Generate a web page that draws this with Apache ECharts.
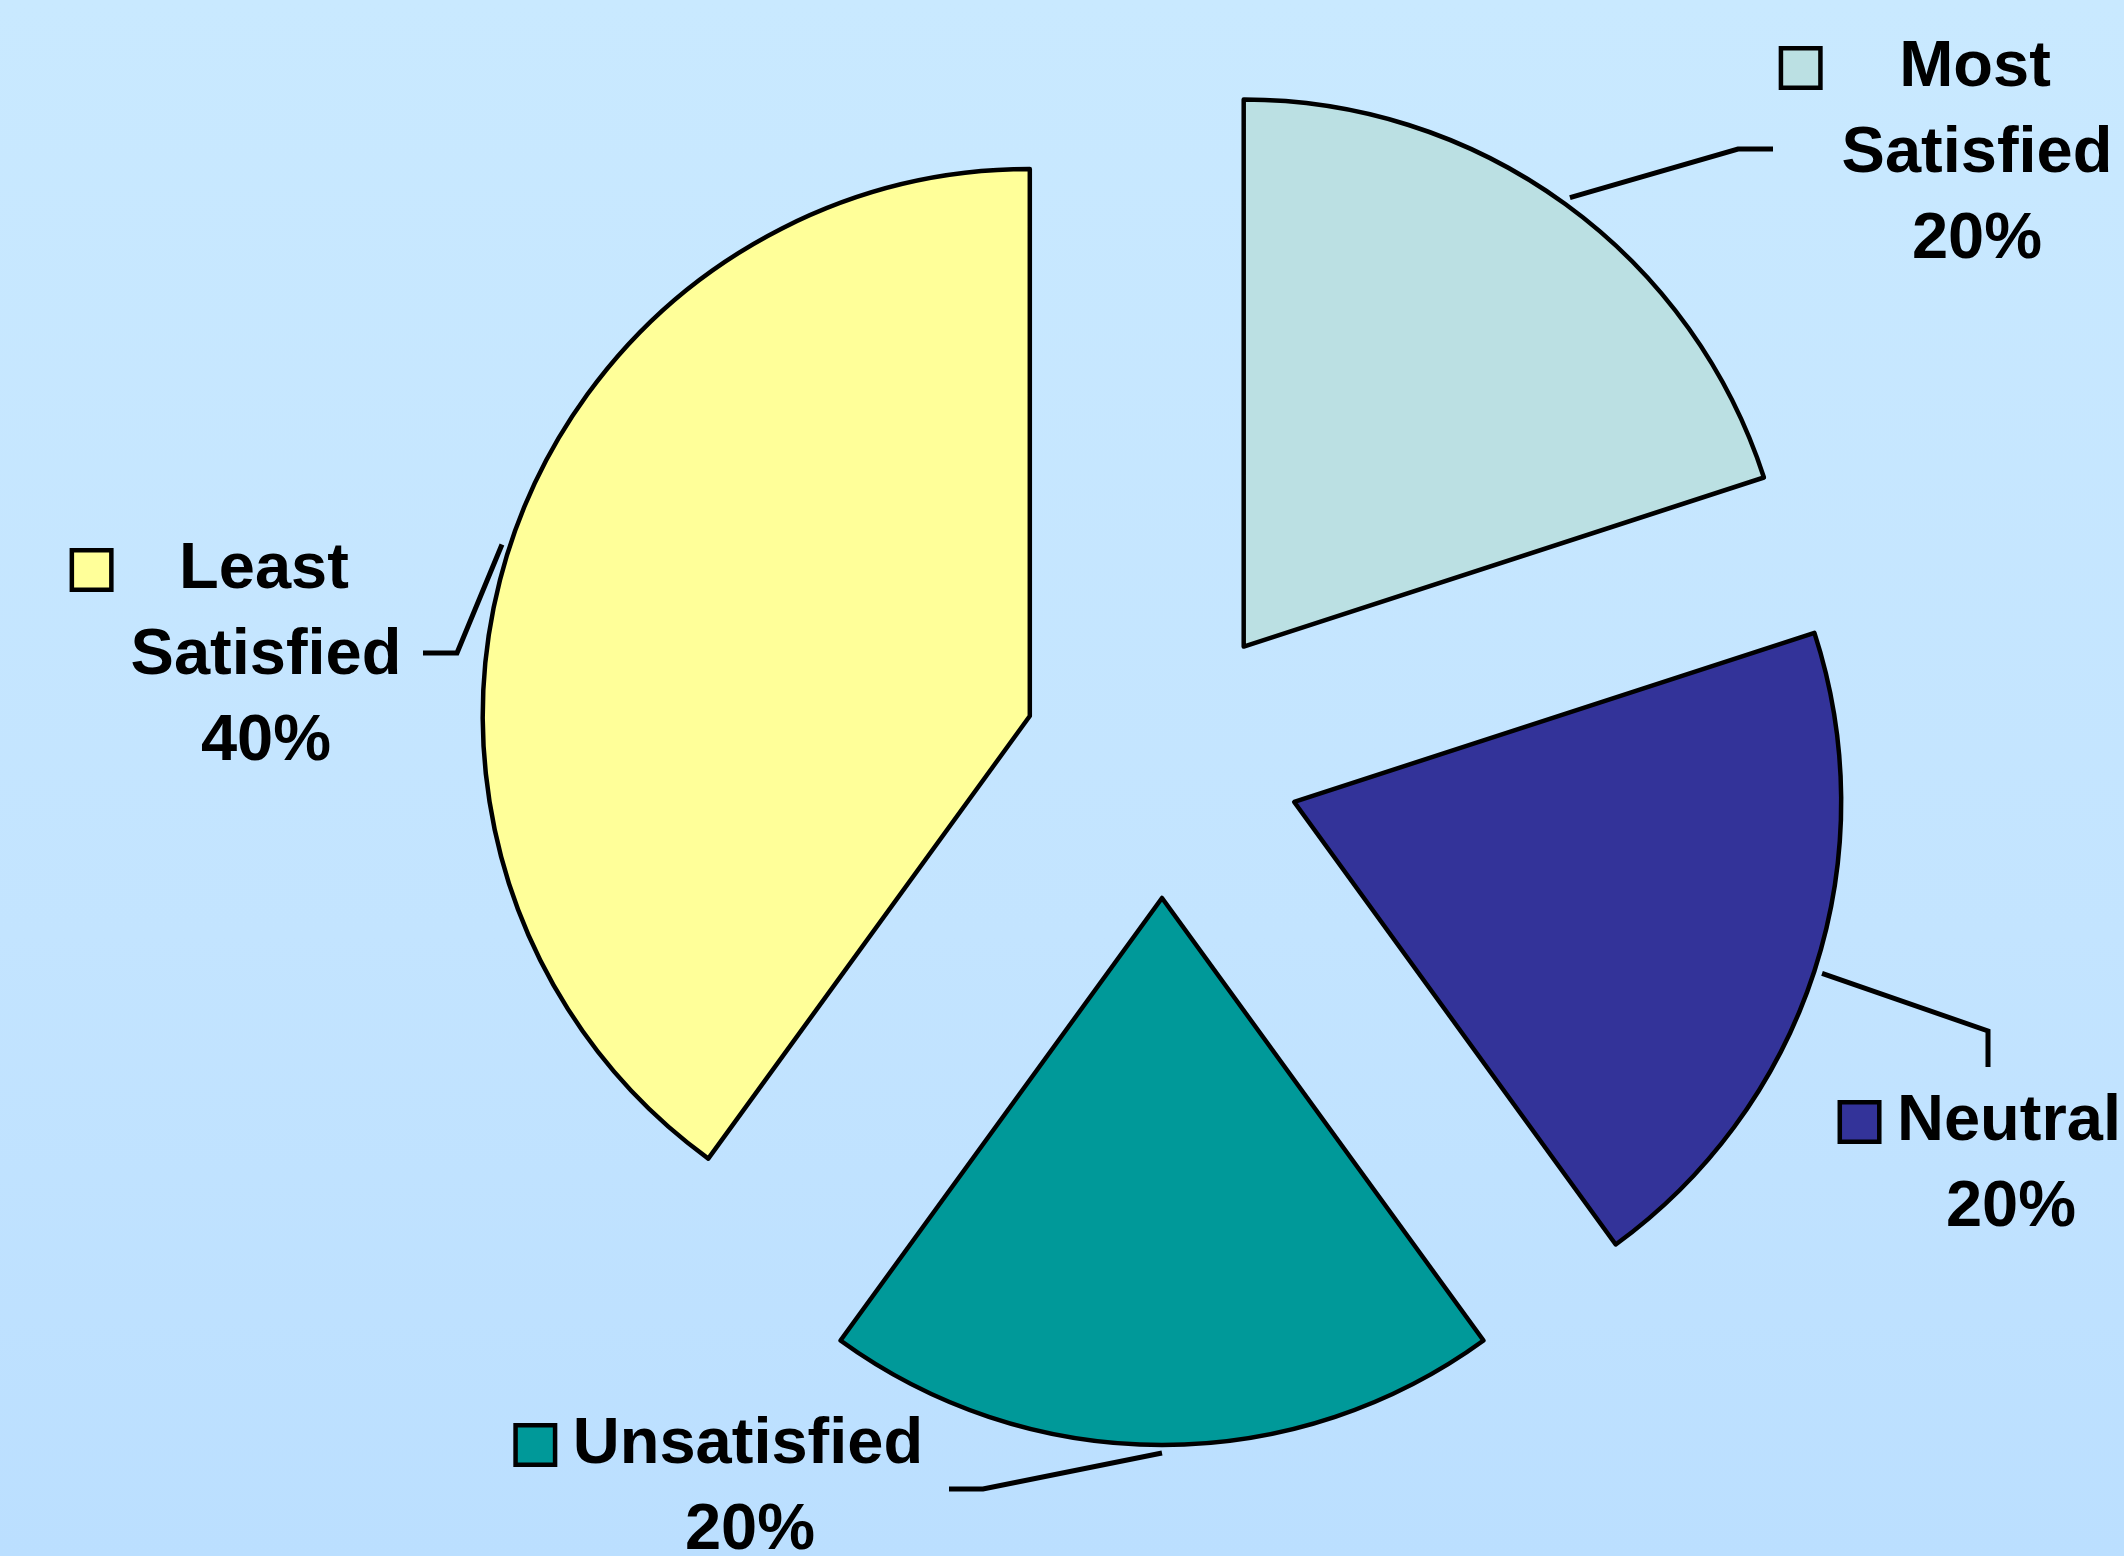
<!DOCTYPE html>
<html>
<head>
<meta charset="utf-8">
<script src="https://cdn.jsdelivr.net/npm/echarts@6/dist/echarts.min.js"></script>
<style>
  html, body { margin: 0; padding: 0; }
  body { width: 2124px; height: 1556px; background: linear-gradient(to bottom, #C9E9FF 0%, #C3E4FF 60%, #BBDFFF 100%); }
  #chart { width: 2124px; height: 1556px; }
</style>
</head>
<body>
<div id="chart"></div>
<script>
// ---- data ----
const categories = ['Most Satisfied', 'Neutral', 'Unsatisfied', 'Least Satisfied'];
const values = [20, 20, 20, 40];
const colors = ['#BBE0E3', '#333399', '#009999', '#FFFF99'];

// ---- layout (positions / sizes only) ----
const pieCenter = [1162, 759];
const pieRadius = 547;
const explodeOffset = 139;
const labelAnchors = [[1977, 154], [2011, 1165], [750, 1488], [266, 656]];
const leaderTails = [
  [[1738, 149], [1773, 149]],
  [[1988, 1031], [1988, 1067]],
  [[983, 1489], [949, 1489]],
  [[457, 653], [423, 653]]
];
const keyGaps = [79, 18, 18, 68];
const keySize = 35;
const strokeW = 4.5;
const leaderW = 5;

const FONT = '"Liberation Sans", Arial, Helvetica, sans-serif';
const rich = {
  t: { fontSize: 65, fontWeight: 'bold', fontFamily: FONT, color: '#000', lineHeight: 86 }
};
colors.forEach((c, i) => {
  rich['sq' + i] = { width: keySize, height: keySize, backgroundColor: c, borderColor: '#000', borderWidth: 4.5, lineHeight: 86 };
  rich['gL' + i] = { width: keyGaps[i] + 2, height: 1, lineHeight: 86 };
  rich['gR' + i] = { width: keyGaps[i] + keySize + 6, height: 1, lineHeight: 86 };
});

const total = values.reduce((a, b) => a + b, 0);
function midAngle(i) {
  let cum = 0;
  for (let k = 0; k < i; k++) cum += values[k];
  const mid = (cum + values[i] / 2) / total;
  return (90 - mid * 360) * Math.PI / 180;
}
// centre of an exploded slice: pushed out along its mid-angle
function sliceCenter(i) {
  const a = midAngle(i);
  return [pieCenter[0] + Math.cos(a) * explodeOffset, pieCenter[1] - Math.sin(a) * explodeOffset];
}
function leaderStart(i) {
  const a = midAngle(i);
  const c = sliceCenter(i);
  const d = pieRadius + 8;
  return [c[0] + Math.cos(a) * d, c[1] - Math.sin(a) * d];
}

function labelFormatter(p) {
  const i = p.dataIndex;
  const words = p.name.split(' ');
  let s = '{sq' + i + '|}{gL' + i + '|}{t|' + words[0] + '}{gR' + i + '|}';
  for (let k = 1; k < words.length; k++) s += '\n{t|' + words[k] + '}';
  s += '\n{t|' + Math.round(p.percent) + '%}';
  return s;
}

// One pie per exploded slice: each lays out all values (so angles come from the data)
// but only shows its own slice.
const series = categories.map((_, i) => ({
  type: 'pie',
  center: sliceCenter(i),
  radius: pieRadius,
  startAngle: 90,
  clockwise: true,
  avoidLabelOverlap: false,
  silent: true,
  emphasis: { disabled: true, scale: false },
  label: { show: true, position: 'outside', align: 'center', rich: rich, formatter: labelFormatter },
  labelLine: { show: true, lineStyle: { color: '#000', width: leaderW }, length: 20, length2: 20 },
  labelLayout: function (params) {
    const k = params.dataIndex;
    if (k !== i) return {};
    return {
      x: labelAnchors[k][0],
      y: labelAnchors[k][1],
      align: 'center',
      verticalAlign: 'middle',
      labelLinePoints: [leaderStart(k), leaderTails[k][0], leaderTails[k][1]]
    };
  },
  data: categories.map((name, k) => ({
    name: name,
    value: values[k],
    itemStyle: k === i
      ? { color: colors[k], borderColor: '#000', borderWidth: strokeW }
      : { color: 'rgba(0,0,0,0)', borderWidth: 0 },
    label: { show: k === i },
    labelLine: { show: k === i, lineStyle: { color: '#000', width: leaderW } }
  }))
}));

const chart = echarts.init(document.getElementById('chart'), null, { renderer: 'canvas' });
chart.setOption({
  backgroundColor: 'transparent',
  animation: false,
  series: series
});
</script>
</body>
</html>
